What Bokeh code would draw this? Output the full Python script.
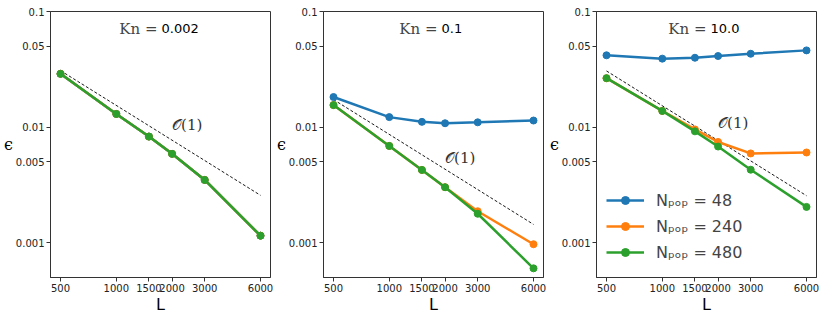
from bokeh.plotting import figure
from bokeh.layouts import row
from bokeh.models import (Range1d, FixedTicker, CustomJSTickFormatter, Label,
                          Legend, LegendItem)
from bokeh.embed import file_html
from bokeh.resources import INLINE

# ---------------- data ----------------
L = [500, 1000, 1500, 2000, 3000, 6000]
x_ticks = [500, 1000, 1500, 2000, 3000, 6000]
y_ticks = [0.001, 0.005, 0.01, 0.05, 0.1]
kn_labels = ["0.002", "0.1", "10.0"]
npop_labels = ["48", "240", "480"]

# Kn = 0.002
eps_a_48 = [0.0289, 0.0130, 0.00828, 0.00587, 0.00349, 0.00115]
eps_a_240 = [0.0289, 0.0130, 0.00828, 0.00587, 0.00349, 0.00115]
eps_a_480 = [0.0289, 0.0130, 0.00828, 0.00587, 0.00349, 0.00115]
# Kn = 0.1
eps_b_48 = [0.0182, 0.0122, 0.0111, 0.0108, 0.0110, 0.0114]
eps_b_240 = [0.0155, 0.00687, 0.00426, 0.00302, 0.00187, 0.00097]
eps_b_480 = [0.0155, 0.00687, 0.00426, 0.00302, 0.00178, 0.00060]
# Kn = 10.0
eps_c_48 = [0.0418, 0.0391, 0.0398, 0.0412, 0.0431, 0.0461]
eps_c_240 = [0.0265, 0.0138, 0.00955, 0.00744, 0.00592, 0.00603]
eps_c_480 = [0.0265, 0.0138, 0.00919, 0.00679, 0.00428, 0.00204]

# reference slope lines (endpoints)
ref_L = [500, 6000]
ref_a = [0.0308, 0.00257]
ref_b = [0.0173, 0.00144]
ref_c = [0.0306, 0.00255]

# position of the O(1) annotation
order_L = [2000, 2000, 2000]
order_eps = [0.0105, 0.0054, 0.0108]

panels = [
    (eps_a_48, eps_a_240, eps_a_480, ref_a),
    (eps_b_48, eps_b_240, eps_b_480, ref_b),
    (eps_c_48, eps_c_240, eps_c_480, ref_c),
]

colors = ["#1f77b4", "#ff7f0e", "#2ca02c"]
FW, FH = 220, 266
title_offsets = [-3, 4, 0]

x_lo = 500 / (6000 / 500) ** 0.05
x_hi = 6000 * (6000 / 500) ** 0.05

figs = []
for i, (s48, s240, s480, ref) in enumerate(panels):
    p = figure(frame_width=FW, frame_height=FH,
               x_axis_type="log", y_axis_type="log",
               x_range=Range1d(x_lo, x_hi), y_range=Range1d(0.0005, 0.1),
               output_backend="svg", toolbar_location=None,
               min_border_top=11, min_border_right=3, min_border_left=0,
               min_border_bottom=0)
    p.grid.visible = False
    p.background_fill_color = "white"
    p.outline_line_color = "#333333"
    p.outline_line_width = 1
    p.outline_line_alpha = 1

    for ax in (p.xaxis[0], p.yaxis[0]):
        ax.axis_line_color = "#333333"
        ax.major_tick_out = 4
        ax.major_tick_in = 0
        ax.minor_tick_out = 0
        ax.minor_tick_in = 0
        ax.major_tick_line_color = "#333333"
        ax.major_label_text_font = "DejaVu Sans"
        ax.major_label_text_font_size = "10px"
        ax.major_label_text_color = "#222222"
        ax.major_label_standoff = 2
        ax.formatter = CustomJSTickFormatter(code="return String(tick)")
        ax.axis_label_text_font_style = "normal"
        ax.axis_label_text_color = "black"

    p.xaxis.ticker = FixedTicker(ticks=x_ticks, minor_ticks=[])
    p.yaxis.ticker = FixedTicker(ticks=y_ticks, minor_ticks=[])
    p.xaxis.axis_label = "L"
    p.xaxis.axis_label_text_font = "DejaVu Sans"
    p.xaxis.axis_label_text_font_size = "16px"
    p.xaxis.axis_label_standoff = 0
    p.yaxis.axis_label = "ϵ"
    p.yaxis.axis_label_text_font = "DejaVu Serif"
    p.yaxis.axis_label_text_font_size = "16px"
    p.yaxis.axis_label_standoff = 0
    p.yaxis.axis_label_orientation = "horizontal"

    p.line(ref_L, ref, line_color="black", line_width=0.9, line_dash="3 2")

    rends = []
    for ys, c in zip((s48, s240, s480), colors):
        ln = p.line(L, ys, line_color=c, line_width=2.5)
        sc = p.scatter(L, ys, size=7, fill_color=c, line_color=c)
        rends.append((ln, sc))

    p.add_layout(Label(x=order_L[i], y=order_eps[i], text="𝒪(1)",
                       text_font="DejaVu Serif", text_font_size="15px",
                       text_align="left", text_baseline="middle",
                       text_color="#333333"))

    split = FW / 2 + title_offsets[i]
    p.add_layout(Label(x=split, y=FH - 17, x_units="screen", y_units="screen",
                       text="Kn =", text_font="DejaVu Serif",
                       text_font_size="15px", text_align="right",
                       text_baseline="middle", text_color="#444444"))
    p.add_layout(Label(x=split + 4, y=FH - 17, x_units="screen", y_units="screen",
                       text=kn_labels[i], text_font="DejaVu Sans",
                       text_font_size="13px", text_align="left",
                       text_baseline="middle", text_color="black"))

    if i == 2:
        items = [LegendItem(label="Nₚₒₚ = " + lab, renderers=list(r))
                 for lab, r in zip(npop_labels, rends)]
        legend = Legend(items=items, location=(10, 15),
                        border_line_color=None, background_fill_alpha=0,
                        label_text_font="DejaVu Sans",
                        label_text_font_size="16px",
                        glyph_width=38, glyph_height=20, spacing=6,
                        padding=5, label_standoff=12, margin=0)
        p.add_layout(legend)

    figs.append(p)

layout = row(*figs)
open("out.html", "w").write(file_html(layout, INLINE))
